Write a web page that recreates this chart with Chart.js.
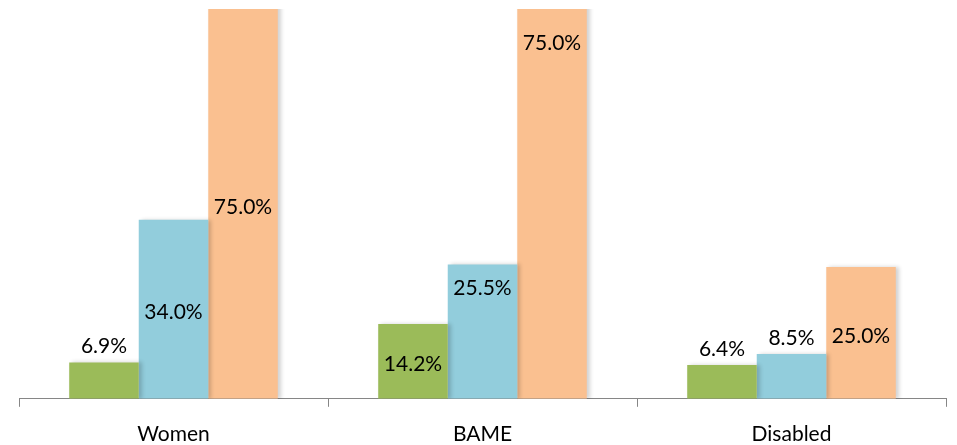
<!DOCTYPE html>
<html>
<head>
<meta charset="utf-8">
<script src="https://cdn.jsdelivr.net/npm/chart.js@4"></script>
<style>
  html, body { margin: 0; padding: 0; background: #fff; }
  #wrap { width: 957px; height: 445px; }
</style>
</head>
<body>
<div id="wrap"><canvas id="barChart"></canvas></div>
<script>
// categories and series
const groups = ['Women', 'BAME', 'Disabled'];
const seriesA = [6.9, 14.2, 6.4];
const seriesB = [34.0, 25.5, 8.5];
const seriesC = [75.0, 75.0, 25.0];

// where each value label sits: 'out' above bar, 'mid' centre of visible bar, 'in' just under the top
const placeA = ['out', 'mid', 'out'];
const placeB = ['mid', 'in', 'out'];
const placeC = ['mid', 'in', 'mid'];

// little shadow to the right of each bar
const barShadow = {
    id: 'barShadow',
    beforeDatasetsDraw(chart) {
        const c = chart.ctx;
        c.save();
        c.shadowColor = 'rgba(0,0,0,0.18)';
        c.shadowBlur = 4;
        c.shadowOffsetX = 3;
        c.shadowOffsetY = 0;
    },
    afterDatasetsDraw(chart) {
        chart.ctx.restore();
    }
};

// value labels on the bars
const valueLabels = {
    id: 'valueLabels',
    afterDatasetsDraw(chart) {
        const c = chart.ctx;
        const area = chart.chartArea;
        const places = [placeA, placeB, placeC];
        c.save();
        c.font = '21px Lato, "Open Sans", sans-serif';
        c.fillStyle = '#000';
        c.textAlign = 'center';
        c.textBaseline = 'middle';
        chart.data.datasets.forEach((ds, i) => {
            chart.getDatasetMeta(i).data.forEach((bar, j) => {
                const top = Math.max(bar.y, area.top);
                let y;
                if (places[i][j] === 'out') y = top - 16;
                else if (places[i][j] === 'in') y = top + (i === 2 ? 34 : 24);
                else y = (top + bar.base) / 2 + 3;
                c.fillText(ds.data[j].toFixed(1) + '%', bar.x, y);
            });
        });
        c.restore();
    }
};

new Chart(document.getElementById('barChart'), {
    type: 'bar',
    data: {
        labels: groups,
        datasets: [
            { data: seriesA, backgroundColor: '#9BBB59' },
            { data: seriesB, backgroundColor: '#92CDDC' },
            { data: seriesC, backgroundColor: '#FAC090' }
        ]
    },
    options: {
        responsive: true,
        maintainAspectRatio: false,
        animation: false,
        layout: { padding: { left: 19, right: 11, top: 9, bottom: -17 } },
        datasets: {
            bar: { categoryPercentage: 0.675, barPercentage: 1.0, borderWidth: 0 }
        },
        plugins: {
            legend: { display: false },
            tooltip: { enabled: false }
        },
        scales: {
            x: {
                grid: {
                    offset: true,
                    drawOnChartArea: false,
                    drawTicks: true,
                    tickLength: 8,
                    color: '#868686'
                },
                border: { display: true, color: '#868686', width: 1 },
                ticks: {
                    color: '#000',
                    padding: 15,
                    font: { family: 'Lato, "Open Sans", sans-serif', size: 21 }
                }
            },
            y: {
                display: false,
                min: 0,
                max: 74
            }
        }
    },
    plugins: [barShadow, valueLabels]
});
</script>
</body>
</html>
